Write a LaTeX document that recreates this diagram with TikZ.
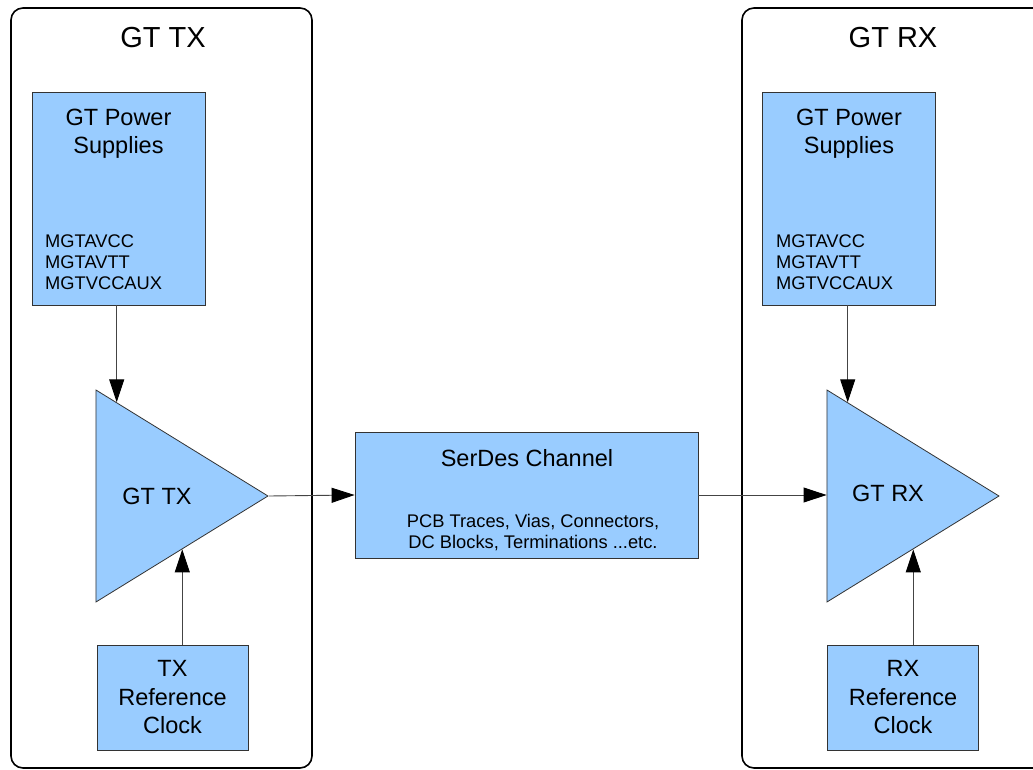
\documentclass[tikz,border=0pt]{standalone}
\usepackage{fontspec}
\setmainfont{Liberation Sans}
\usetikzlibrary{arrows.meta, positioning, shapes.geometric, calc}
\definecolor{blockfill}{HTML}{99CCFF}
\definecolor{blockline}{HTML}{333333}
\definecolor{wirecolor}{HTML}{444444}

\begin{document}
\begin{tikzpicture}[
    x=1pt, y=-1pt,
    side/.style={draw=black, line width=1.6pt, rounded corners=12pt, inner sep=0pt},
    block/.style={draw=blockline, fill=blockfill, line width=0.8pt, inner sep=0pt},
    amp/.style={block, isosceles triangle, isosceles triangle stretches,
        minimum width=212pt, minimum height=172pt, anchor=apex},
    wire/.style={draw=wirecolor, line width=0.9pt, -{Triangle[length=23pt, width=15pt, color=black]}},
    bigtext/.style={font=\fontsize{29}{34}\selectfont},
    midtext/.style={font=\fontsize{23.5}{28.5}\selectfont, align=center},
    smalltext/.style={font=\fontsize{18.3}{21}\selectfont, inner sep=0pt}
]
\clip (0,0) rectangle (1033,770);

% TX side
\node[side, minimum width=301pt, minimum height=760pt] (txside) at (161.5,388) {};
\node[bigtext] at (163,38) {GT TX};
\node[block, minimum width=173pt, minimum height=213pt] (txpwr) at (118.5,198.5) {};
\node[midtext] at (118.5,133.5) {GT Power\\Supplies};
\node[smalltext, align=left, anchor=west] at (45,262) {MGTAVCC\\MGTAVTT\\MGTVCCAUX};
\node[amp] (txamp) at (269,496) {};
\node[midtext] at (157,496) {GT TX};
\node[block, midtext, minimum width=151pt, minimum height=105pt] (txclk) at (172.5,697.5) {TX\\Reference\\Clock};

% channel
\node[block, minimum width=343pt, minimum height=126pt] (chan) at (526.5,495) {};
\node[midtext] at (527,458) {SerDes Channel};
\node[smalltext, align=center] at (533,532.5) {PCB Traces, Vias, Connectors,\\DC Blocks, Terminations ...etc.};

% RX side
\node[side, minimum width=320pt, minimum height=760pt] (rxside) at (902,388) {};
\node[bigtext] at (893,38) {GT RX};
\node[block, minimum width=173pt, minimum height=213pt] (rxpwr) at (849,198.5) {};
\node[midtext] at (849,133.5) {GT Power\\Supplies};
\node[smalltext, align=left, anchor=west] at (776,262) {MGTAVCC\\MGTAVTT\\MGTVCCAUX};
\node[amp] (rxamp) at (1000,496) {};
\node[midtext] at (888,493) {GT RX};
\node[block, midtext, minimum width=151pt, minimum height=105pt] (rxclk) at (903,697.5) {RX\\Reference\\Clock};

% points on the amplifier edges
\coordinate (txtop) at ($(txamp.left corner)!0.122!(txamp.apex)$);
\coordinate (txbot) at ($(txamp.right corner)!0.5!(txamp.apex)$);
\coordinate (rxtop) at ($(rxamp.left corner)!0.122!(rxamp.apex)$);
\coordinate (rxbot) at ($(rxamp.right corner)!0.5!(rxamp.apex)$);

\draw[wire] (txpwr.south -| txtop) -- (txtop);
\draw[wire] (txclk.north -| txbot) -- (txbot);
\draw[wire] (txamp.apex) -- (chan.west);
\draw[wire] (chan.east) -- (chan.east -| rxamp.left corner);
\draw[wire] (rxpwr.south -| rxtop) -- (rxtop);
\draw[wire] (rxclk.north -| rxbot) -- (rxbot);
\end{tikzpicture}
\end{document}
